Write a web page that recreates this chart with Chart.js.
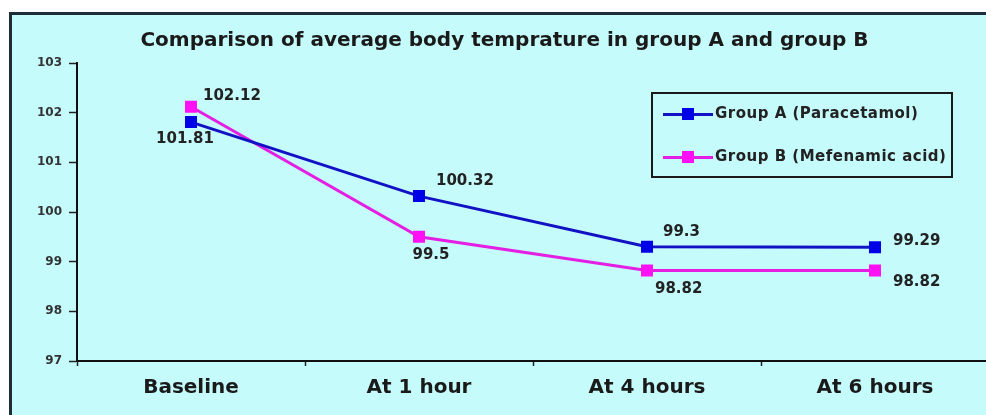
<!DOCTYPE html>
<html>
<head>
<meta charset="utf-8">
<script src="https://cdn.jsdelivr.net/npm/chart.js@4.4.1/dist/chart.umd.min.js"></script>
<style>
  html, body { margin: 0; padding: 0; background: #fff; overflow: hidden; width: 986px; height: 415px; }
  #frame { position: absolute; left: 9px; top: 12px; width: 1000px; height: 420px;
           background: #c6fbfc; border-top: 3px solid #1d2e38; border-left: 3px solid #1d2e38; }
  #chart { position: absolute; left: 0; top: 0; }
  #legend { position: absolute; left: 651px; top: 92px; width: 298px; height: 82px;
            border: 2px solid #1a1a1a; font: bold 15px "DejaVu Sans"; letter-spacing: 0.5px; color: #222; }
  .item { position: absolute; left: 10px; height: 16px; }
  .item .ln { position: absolute; left: 0; top: 7px; width: 50px; height: 3px; }
  .item .mk { position: absolute; left: 19px; top: 2px; width: 12px; height: 12px; }
  .item span { position: absolute; left: 52px; top: -2px; white-space: nowrap; }
</style>
</head>
<body>
<div id="frame"></div>
<canvas id="chart" width="1000" height="415"></canvas>
<div id="legend"></div>
<script>
// dados
const categories = ["Baseline", "At 1 hour", "At 4 hours", "At 6 hours"];
const groupA = [101.81, 100.32, 99.3, 99.29];
const groupB = [102.12, 99.5, 98.82, 98.82];
const seriesNames = ["Group A (Paracetamol)", "Group B (Mefenamic acid)"];
const yMin = 97, yMax = 103, yStep = 1;

const blue = "#1212c4", blueMark = "#0000e6";
const pink = "#e41ee2", pinkMark = "#ff10f5";

// deslocamento de cada rotulo em relacao ao ponto [dx, dy, align]
const labelOffsets = [
  [[-6, 17, "center"], [17, -15, "left"], [16, -15, "left"], [18, -6, "left"]],
  [[12, -11, "left"], [12, 18, "center"], [8, 19, "left"], [18, 12, "left"]]
];

const valueLabels = {
  id: "valueLabels",
  afterDatasetsDraw(chart) {
    const ctx = chart.ctx;
    ctx.save();
    ctx.font = "bold 15px 'DejaVu Sans'";
    ctx.fillStyle = "#222";
    ctx.textBaseline = "middle";
    chart.data.datasets.forEach((ds, i) => {
      chart.getDatasetMeta(i).data.forEach((pt, j) => {
        const o = labelOffsets[i][j];
        ctx.textAlign = o[2];
        ctx.fillText(String(ds.data[j]), pt.x + o[0], pt.y + o[1]);
      });
    });
    ctx.restore();
  }
};

let chart = new Chart(document.getElementById("chart"), {
  type: "line",
  data: {
    labels: categories,
    datasets: [
      {
        label: seriesNames[0],
        data: groupA,
        borderColor: blue,
        backgroundColor: blueMark,
        borderWidth: 3,
        pointStyle: "rect",
        pointRadius: 8.5,
        pointBorderWidth: 0,
        tension: 0
      },
      {
        label: seriesNames[1],
        data: groupB,
        borderColor: pink,
        backgroundColor: pinkMark,
        borderWidth: 3,
        pointStyle: "rect",
        pointRadius: 8.5,
        pointBorderWidth: 0,
        tension: 0
      }
    ]
  },
  options: {
    responsive: false,
    animation: false,
    layout: { padding: { top: 29, left: 20, right: 11, bottom: 5 } },
    plugins: {
      legend: { display: false },
      tooltip: { enabled: false },
      title: {
        display: true,
        text: "Comparison of average body temprature in group A and group B",
        color: "#1a1a1a",
        font: { family: "DejaVu Sans", size: 20, weight: "bold" },
        padding: { top: 0, bottom: 10 }
      }
    },
    scales: {
      x: {
        offset: true,
        grid: { offset: true, drawOnChartArea: false, tickLength: 5, color: "#222", tickWidth: 1.5 },
        border: { color: "#111", width: 2 },
        ticks: { color: "#1a1a1a", padding: 10, font: { family: "DejaVu Sans", size: 20, weight: "bold" } }
      },
      y: {
        min: yMin,
        max: yMax,
        afterFit(scale) { scale.width = 57; },
        grid: { drawOnChartArea: false, tickLength: 8, color: "#222", tickWidth: 1.5 },
        border: { color: "#111", width: 2 },
        ticks: { stepSize: yStep, color: "#333", padding: 7, font: { family: "DejaVu Sans", size: 12, weight: "bold" } }
      }
    }
  },
  plugins: [valueLabels]
});

// legenda em html com caixa
const legend = document.getElementById("legend");
[[blue, blueMark, 12], [pink, pinkMark, 55]].forEach((c, i) => {
  const it = document.createElement("div");
  it.className = "item";
  it.style.top = c[2] + "px";
  it.innerHTML = `<div class="ln" style="background:${c[0]}"></div><div class="mk" style="background:${c[1]}"></div><span>${seriesNames[i]}</span>`;
  legend.appendChild(it);
});
</script>
</body>
</html>
